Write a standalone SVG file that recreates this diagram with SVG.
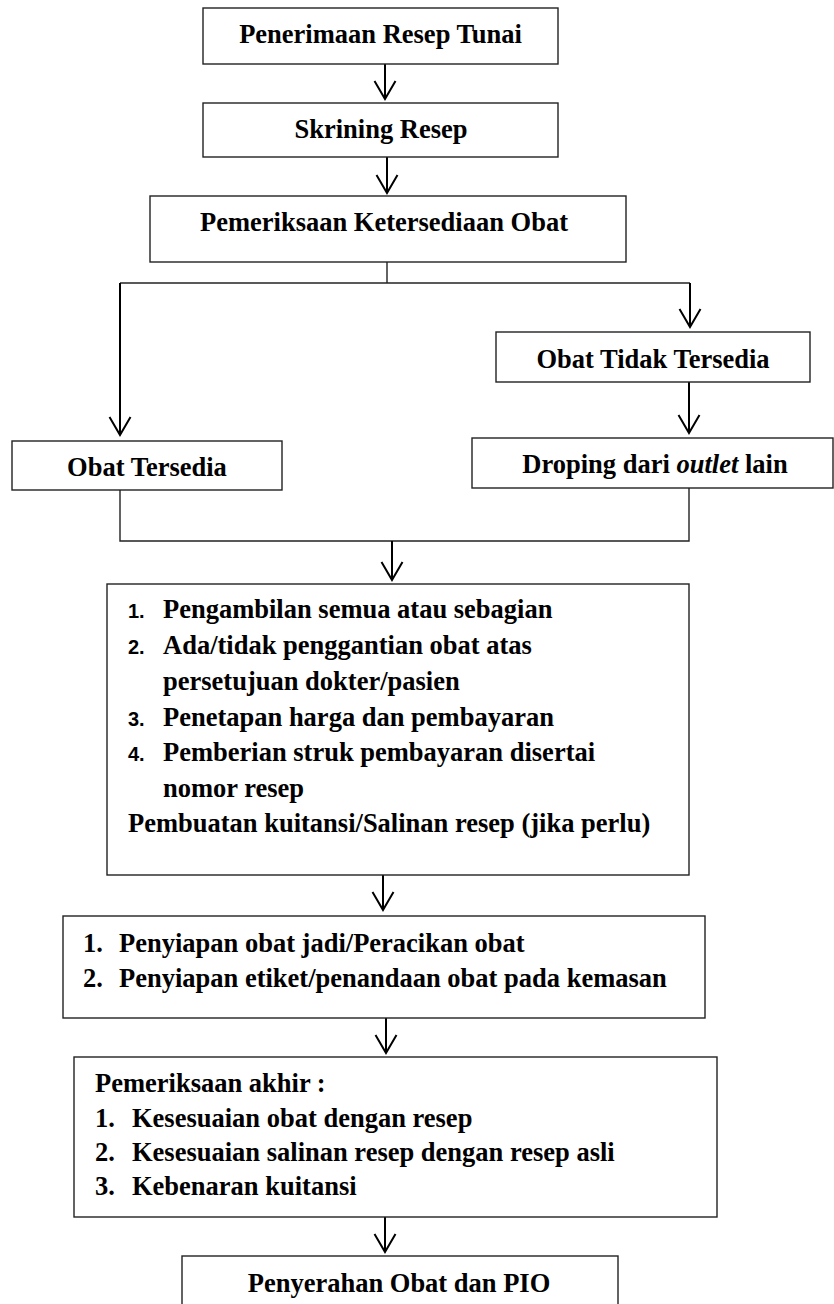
<svg xmlns="http://www.w3.org/2000/svg" width="834" height="1304" viewBox="0 0 834 1304">
<style>
.box{fill:#fff;stroke:#222;stroke-width:1.4}
.t{font-family:"Liberation Serif","Times New Roman",serif;font-weight:bold;font-size:26.5px;fill:#000}
.c{text-anchor:middle}
.n{font-family:"Liberation Sans",Arial,sans-serif;font-weight:bold;font-size:20px;fill:#000}
.ln{fill:none;stroke:#222;stroke-width:1.4}
.ar{fill:none;stroke:#000;stroke-width:2;marker-end:url(#v)}
</style>
<defs>
<marker id="v" markerUnits="userSpaceOnUse" markerWidth="20" markerHeight="24" refX="0" refY="0" orient="auto" overflow="visible">
<path d="M-18,-10.5 L0,0 L-18,10.5" fill="none" stroke="#000" stroke-width="2"/>
</marker>
</defs>
<rect width="834" height="1304" fill="#fff"/>
<g id="connectors">
<line class="ar" x1="385" y1="64" x2="385" y2="99"/>
<line class="ar" x1="387" y1="157" x2="387" y2="193"/>
<polyline class="ln" points="387,262 387,283"/>
<polyline class="ln" points="120,283 690,283"/>
<line class="ar" x1="120" y1="283" x2="120" y2="435"/>
<line class="ar" x1="690" y1="283" x2="690" y2="327"/>
<line class="ar" x1="689" y1="382" x2="689" y2="433"/>
<polyline class="ln" points="120,490 120,541 689,541 689,488"/>
<line class="ar" x1="392" y1="541" x2="392" y2="580"/>
<line class="ar" x1="383" y1="875" x2="383" y2="910"/>
<line class="ar" x1="386" y1="1018" x2="386" y2="1053"/>
<line class="ar" x1="385" y1="1217" x2="385" y2="1252"/>
</g>
<g id="n1"><rect class="box" x="203" y="8" width="355" height="56"/><text class="t c" x="380.5" y="43">Penerimaan Resep Tunai</text></g>
<g id="n2"><rect class="box" x="203" y="103" width="355" height="54"/><text class="t c" x="381" y="138">Skrining Resep</text></g>
<g id="n3"><rect class="box" x="150" y="196" width="476" height="66"/><text class="t c" x="384" y="231">Pemeriksaan Ketersediaan Obat</text></g>
<g id="n4"><rect class="box" x="496" y="332" width="314" height="50"/><text class="t c" x="653" y="368">Obat Tidak Tersedia</text></g>
<g id="n5"><rect class="box" x="12" y="441" width="270" height="49"/><text class="t c" x="147" y="476">Obat Tersedia</text></g>
<g id="n6"><rect class="box" x="472" y="438" width="361" height="50"/><text class="t c" x="655" y="473">Droping dari <tspan font-style="italic">outlet</tspan> lain</text></g>
<g id="n7"><rect class="box" x="107" y="584" width="582" height="291"/>
<text class="n" x="128" y="618">1.</text><text class="t" x="163" y="618">Pengambilan semua atau sebagian</text>
<text class="n" x="128" y="654">2.</text><text class="t" x="163" y="654">Ada/tidak penggantian obat atas</text>
<text class="t" x="163" y="690">persetujuan dokter/pasien</text>
<text class="n" x="128" y="726">3.</text><text class="t" x="163" y="726">Penetapan harga dan pembayaran</text>
<text class="n" x="128" y="761">4.</text><text class="t" x="163" y="761">Pemberian struk pembayaran disertai</text>
<text class="t" x="163" y="797">nomor resep</text>
<text class="t" x="128" y="832">Pembuatan kuitansi/Salinan resep (jika perlu)</text>
</g>
<g id="n8"><rect class="box" x="63" y="916" width="642" height="102"/>
<text class="t" x="83" y="952">1.</text><text class="t" x="119" y="952">Penyiapan obat jadi/Peracikan obat</text>
<text class="t" x="83" y="987">2.</text><text class="t" x="119" y="987">Penyiapan etiket/penandaan obat pada kemasan</text>
</g>
<g id="n9"><rect class="box" x="74" y="1057" width="643" height="160"/>
<text class="t" x="95" y="1092">Pemeriksaan akhir :</text>
<text class="t" x="95" y="1127">1.</text><text class="t" x="132" y="1127">Kesesuaian obat dengan resep</text>
<text class="t" x="95" y="1161">2.</text><text class="t" x="132" y="1161">Kesesuaian salinan resep dengan resep asli</text>
<text class="t" x="95" y="1195">3.</text><text class="t" x="132" y="1195">Kebenaran kuitansi</text>
</g>
<g id="n10"><rect class="box" x="182" y="1256" width="436" height="60"/><text class="t c" x="399" y="1292">Penyerahan Obat dan PIO</text></g>
</svg>
